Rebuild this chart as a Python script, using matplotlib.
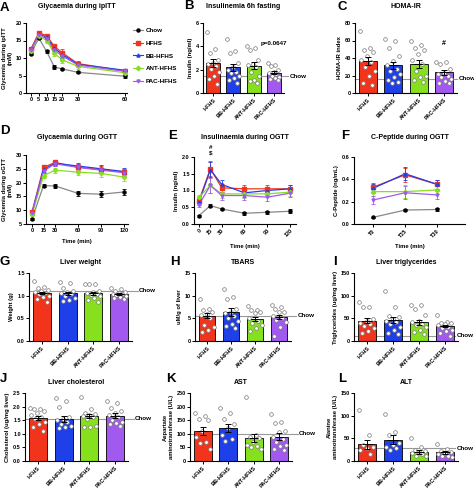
import numpy as np
import matplotlib
matplotlib.use('Agg')
import matplotlib.pyplot as plt
from matplotlib.lines import Line2D

plt.rcParams['font.family'] = ['Liberation Sans', 'DejaVu Sans']
plt.rcParams['font.weight'] = 'bold'
plt.rcParams['axes.labelweight'] = 'bold'

# ---- groups / colors
groups = ['HFHS', 'BB-HFHS', 'ANT-HFHS', 'PAC-HFHS']
series = ['Chow', 'HFHS', 'BB-HFHS', 'ANT-HFHS', 'PAC-HFHS']
colors = {'Chow': 'black', 'HFHS': '#f2341d', 'BB-HFHS': '#1f3fe8',
          'ANT-HFHS': '#86e01e', 'PAC-HFHS': '#a259f0'}
markers = {'Chow': 'o', 'HFHS': 's', 'BB-HFHS': '^', 'ANT-HFHS': 'D', 'PAC-HFHS': 'v'}

# ---- A: ipITT
ipitt_t = [0, 5, 10, 15, 20, 30, 60]
ipitt_chow = [11.2, 15.7, 11.9, 7.4, 6.9, 5.9, 4.8]
ipitt_hfhs = [12.6, 17.2, 16.4, 13.3, 11.5, 8.4, 6.3]
ipitt_bb = [12.4, 16.8, 16.0, 12.8, 11.0, 8.2, 6.5]
ipitt_ant = [12.0, 16.3, 15.0, 11.3, 9.5, 7.6, 5.8]
ipitt_pac = [12.3, 16.6, 15.5, 12.2, 10.6, 8.0, 6.2]
ipitt_sem_chow = [0.3, 0.4, 0.5, 0.5, 0.3, 0.3, 0.4]
ipitt_sem = [0.4, 0.5, 0.6, 0.8, 1.0, 0.7, 0.5]

# ---- D: OGTT glycaemia
ogtt_t = [0, 15, 30, 60, 90, 120]
ogtt_chow = [6.8, 18.9, 18.8, 16.1, 15.8, 16.6]
ogtt_hfhs = [9.3, 25.5, 27.3, 25.6, 24.7, 23.8]
ogtt_bb = [9.0, 24.8, 27.0, 26.0, 25.0, 24.0]
ogtt_ant = [8.5, 22.5, 24.5, 23.8, 23.3, 22.0]
ogtt_pac = [8.9, 24.2, 26.8, 25.5, 24.5, 23.6]
ogtt_sem_chow = [0.4, 0.6, 0.8, 1.0, 1.0, 1.1]
ogtt_sem = [0.6, 0.8, 0.9, 1.2, 1.2, 1.3]

# ---- E: OGTT insulin
ins_t = [0, 15, 30, 60, 90, 120]
ins_chow = [0.25, 0.55, 0.45, 0.32, 0.35, 0.38]
ins_hfhs = [0.70, 1.65, 1.08, 1.05, 1.05, 1.05]
ins_bb = [0.65, 1.62, 1.18, 0.93, 1.00, 1.05]
ins_ant = [0.80, 1.15, 0.90, 0.90, 0.90, 0.95]
ins_pac = [0.58, 1.15, 0.85, 0.85, 0.80, 0.92]
ins_sem_chow = [0.03, 0.05, 0.04, 0.04, 0.05, 0.06]
ins_sem = [0.08, 0.22, 0.12, 0.12, 0.10, 0.12]

# ---- F: C-peptide
cpep_t = ['T0', 'T15', 'T30']
cpep_chow = [0.06, 0.125, 0.13]
cpep_hfhs = [0.33, 0.44, 0.355]
cpep_bb = [0.32, 0.45, 0.355]
cpep_ant = [0.29, 0.29, 0.305]
cpep_pac = [0.215, 0.28, 0.26]
cpep_sem_chow = [0.005, 0.01, 0.01]
cpep_sem = [0.04, 0.06, 0.04]

# ---- bar panels: individual values, mean, sem, chow reference
b_pts = [[5.2, 3.8, 3.4, 2.8, 2.6, 2.5, 2.3, 2.1, 1.8, 1.5, 1.2, 0.8],
         [4.6, 3.6, 3.4, 2.6, 2.2, 2.0, 1.8, 1.7, 1.5, 1.3, 1.1, 0.9],
         [4.0, 3.9, 3.7, 2.8, 2.5, 2.4, 2.2, 1.8, 1.5, 1.1, 1.0, 0.9],
         [2.6, 2.4, 2.3, 2.0, 1.8, 1.7, 1.6, 1.5, 1.4, 1.3, 1.2, 1.1]]
b_mean = [2.55, 2.2, 2.35, 1.75]
b_sem = [0.35, 0.3, 0.3, 0.15]
b_chow = 1.45

c_pts = [[71, 51, 49, 47, 42, 38, 35, 30, 25, 20, 12, 9],
         [62, 59, 52, 42, 37, 32, 27, 25, 22, 18, 15, 13, 12],
         [60, 55, 52, 49, 45, 38, 33, 25, 20, 18, 15, 13],
         [36, 35, 33, 27, 23, 22, 20, 18, 16, 14, 12, 11]]
c_mean = [36.5, 31.5, 33, 23.5]
c_sem = [5, 4, 4.5, 2.5]
c_chow = 16

g_pts = [[1.33, 1.2, 1.17, 1.12, 1.1, 1.08, 1.05, 1.03, 1.0, 0.97, 0.93, 0.85],
         [1.31, 1.27, 1.17, 1.1, 1.08, 1.05, 1.03, 1.0, 0.95, 0.9, 0.88],
         [1.26, 1.26, 1.26, 1.1, 1.08, 1.06, 1.04, 1.02, 1.0, 0.95, 0.9, 0.87],
         [1.17, 1.14, 1.1, 1.07, 1.05, 1.04, 1.03, 1.02, 1.0, 0.98, 0.95, 0.92]]
g_mean = [1.06, 1.05, 1.05, 1.04]
g_sem = [0.03, 0.03, 0.03, 0.02]
g_chow = 1.11

h_pts = [[9.2, 7.0, 6.8, 6.5, 6.0, 5.8, 5.0, 3.5, 3.0, 2.5, 2.0],
         [11.5, 9.8, 9.3, 7.0, 6.5, 6.2, 5.5, 5.0, 4.5, 3.8, 3.2, 2.8],
         [7.8, 6.9, 6.8, 6.5, 6.2, 5.0, 4.5, 4.0, 3.5, 2.8, 2.3],
         [8.0, 7.4, 7.0, 6.5, 6.3, 5.5, 5.0, 4.6, 4.2, 3.0, 1.0]]
h_mean = [5.6, 6.4, 4.9, 5.3]
h_sem = [0.6, 0.8, 0.5, 0.5]
h_chow = 5.6

i_pts = [[86, 75, 75, 48, 44, 40, 38, 32, 28, 22, 18],
         [110, 75, 55, 52, 48, 45, 42, 38, 30, 25, 18, 15],
         [80, 80, 70, 58, 45, 42, 38, 35, 30, 25, 20, 15],
         [58, 43, 40, 40, 38, 35, 30, 28, 25, 22, 18, 12]]
i_mean = [45, 46, 41, 33]
i_sem = [6, 7, 6, 3]
i_chow = 12

j_pts = [[1.95, 1.92, 1.9, 1.82, 1.75, 1.7, 1.6, 1.55, 1.45, 1.35, 1.25, 1.12],
         [2.3, 2.2, 2.0, 1.6, 1.55, 1.5, 1.45, 1.35, 1.3, 1.25, 1.2],
         [2.35, 1.9, 1.78, 1.72, 1.7, 1.65, 1.6, 1.55, 1.3, 1.25, 1.25],
         [2.22, 2.12, 1.95, 1.85, 1.75, 1.7, 1.6, 1.5, 1.45, 1.4, 1.35, 1.3]]
j_mean = [1.58, 1.55, 1.65, 1.67]
j_sem = [0.07, 0.1, 0.07, 0.08]
j_chow = 1.55

k_pts = [[178, 165, 155, 150, 110, 90, 70, 65, 45],
         [195, 178, 155, 135, 120, 95, 80, 75],
         [235, 95, 90, 85, 70, 60, 55, 50, 45],
         [172, 145, 140, 110, 105, 90, 80, 70, 60, 55, 45, 40]]
k_mean = [110, 122, 85, 90]
k_sem = [15, 15, 15, 12]
k_chow = 100

l_pts = [[112, 57, 35, 30, 28, 25, 15],
         [103, 65, 58, 40, 35, 30, 28, 25],
         [50, 30, 25, 22, 20, 18, 15, 12, 10],
         [38, 26, 22, 20, 18, 15, 12, 10, 8]]
l_mean = [37, 47, 20, 19]
l_sem = [10, 10, 4, 3]
l_chow = 28

# ------------------------------------------------------------------
W, H = 474, 488
fig = plt.figure(figsize=(W / 100, H / 100), dpi=100)
TICK = 4
LAB = 4.2


def px(x0, y0, x1, y1):
    return [x0 / W, 1 - y1 / H, (x1 - x0) / W, (y1 - y0) / H]


def style(ax):
    for s in ['top', 'right']:
        ax.spines[s].set_visible(False)
    for s in ['left', 'bottom']:
        ax.spines[s].set_linewidth(0.8)
    ax.tick_params(labelsize=TICK, length=2, width=0.7, pad=1)
    for lab in ax.get_xticklabels() + ax.get_yticklabels():
        lab.set_fontweight('bold')


def title(ax, text, ytop):
    b = ax.get_position()
    fig.text(b.x0 + b.width / 2, 1 - ytop / H, text, ha='center', va='center',
             fontsize=5, fontweight='bold')


def letter(x, y, s):
    fig.text(x / W, 1 - y / H, s, ha='left', va='center', fontsize=9.5, fontweight='bold')


def bar_panel(box, ttl, ty, ylabel, pts, means, sems, chow, ylim, yticks, chow_end=3.72):
    ax = fig.add_axes(px(*box))
    x = np.arange(4)
    ax.bar(x, means, width=0.7, color=[colors[g] for g in groups],
           edgecolor='black', linewidth=0.6, zorder=2)
    for i, vals in enumerate(pts):
        n = len(vals)
        off = ((np.arange(n) * 0.618) % 1 - 0.5) * 0.62
        ax.scatter(x[i] + off, vals, s=7, facecolor='white', edgecolor='#777777',
                   linewidth=0.5, zorder=4, clip_on=False)
    ax.errorbar(x, means, yerr=sems, fmt='none', ecolor='black', elinewidth=0.7,
                capsize=2, capthick=0.7, zorder=5)
    ax.hlines(means, x - 0.18, x + 0.18, color='black', linewidth=0.7, zorder=5)
    ax.plot([-0.5, chow_end], [chow, chow], color='#999999', linewidth=0.8,
            zorder=1, clip_on=False)
    ax.text(chow_end + 0.06, chow, 'Chow', fontsize=4.5, va='center', ha='left',
            clip_on=False)
    ax.set_xlim(-0.5, 3.5)
    ax.set_ylim(*ylim)
    ax.set_yticks(yticks)
    ax.set_xticks(x)
    ax.set_xticklabels(groups, rotation=45, ha='right', rotation_mode='anchor')
    ax.set_ylabel(ylabel, fontsize=LAB, labelpad=2)
    style(ax)
    title(ax, ttl, ty)
    return ax


def line_panel(box, ttl, ty, xs, data, sems, ylim, yticks, xlim, ylabel,
               xlabel=None, xticklabels=None, rot=0, yfmt=None):
    ax = fig.add_axes(px(*box))
    for name, ys, se in zip(series, data, sems):
        c = colors[name]
        lc = '#888888' if name == 'Chow' else c
        ax.plot(xs, ys, color=lc, linewidth=0.9, zorder=2)
        ax.errorbar(xs, ys, yerr=se, fmt=markers[name], color=c, ms=2.2,
                    elinewidth=0.6, capsize=1.2, capthick=0.6, zorder=3)
    ax.set_xlim(*xlim)
    ax.set_ylim(*ylim)
    ax.set_yticks(yticks)
    ax.set_xticks(xs)
    if xticklabels is not None:
        ax.set_xticklabels(xticklabels)
    if rot:
        plt.setp(ax.get_xticklabels(), rotation=rot, ha='right', rotation_mode='anchor')
    if yfmt:
        ax.set_yticklabels([yfmt % v for v in yticks])
    ax.set_ylabel(ylabel, fontsize=LAB, labelpad=2)
    if xlabel:
        ax.set_xlabel(xlabel, fontsize=LAB, labelpad=4)
    style(ax)
    title(ax, ttl, ty)
    return ax


# A
axA = line_panel((26, 23, 127, 93), 'Glycaemia during ipITT', 7, ipitt_t,
                 [ipitt_chow, ipitt_hfhs, ipitt_bb, ipitt_ant, ipitt_pac],
                 [ipitt_sem_chow] + [ipitt_sem] * 4, (0, 20), [0, 5, 10, 15, 20],
                 (-3.2, 61.5), 'Glycemia during ipITT\n(mM)')
handles = [Line2D([], [], color=('#888888' if s == 'Chow' else colors[s]), lw=0.8,
                  marker=markers[s], ms=2.2, mfc=colors[s], mec=colors[s]) for s in series]
fig.legend(handles, series, loc='upper left', bbox_to_anchor=(130 / W, 1 - 25 / H),
           frameon=False, fontsize=4.5, handlelength=1.6, labelspacing=1.2,
           handletextpad=0.5, borderaxespad=0)

# B, C
axB = bar_panel((203, 23, 284, 93), 'Insulinemia 6h fasting', 7, 'Insulin (ng/ml)',
                b_pts, b_mean, b_sem, b_chow, (0, 6), [0, 2, 4, 6])
axB.text(3, 4.2, 'p=0.0647', ha='center', va='center', fontsize=4.5)
axC = bar_panel((355, 23, 457, 93), 'HOMA-IR', 7, 'HOMA-IR index',
                c_pts, c_mean, c_sem, c_chow, (0, 80), [0, 20, 40, 60, 80],
                chow_end=3.5)
axC.text(3, 57, '#', ha='center', va='center', fontsize=5)

# D, E, F
line_panel((26, 155, 128, 224), 'Glycaemia during OGTT', 137, ogtt_t,
           [ogtt_chow, ogtt_hfhs, ogtt_bb, ogtt_ant, ogtt_pac],
           [ogtt_sem_chow] + [ogtt_sem] * 4, (5, 30), [5, 10, 15, 20, 25, 30],
           (-7.8, 125), 'Glycemia during oGTT\n(mM)', xlabel='Time (min)')
axE = line_panel((194, 157, 296, 224), 'Insulinaemia during OGTT', 137, ins_t,
                 [ins_chow, ins_hfhs, ins_bb, ins_ant, ins_pac],
                 [ins_sem_chow] + [ins_sem] * 4, (0, 2.0), [0, 0.5, 1.0, 1.5, 2.0],
                 (-6.6, 128), 'Insulin (ng/ml)', xlabel='Time (min)', rot=45, yfmt='%.1f')
axE.text(15, 2.27, '#', ha='center', va='center', fontsize=4.5, clip_on=False)
axE.text(15, 2.12, '$', ha='center', va='center', fontsize=4.5, clip_on=False)
line_panel((354, 157, 465, 224), 'C-Peptide during OGTT', 137, [0, 1, 2],
           [cpep_chow, cpep_hfhs, cpep_bb, cpep_ant, cpep_pac],
           [cpep_sem_chow] + [cpep_sem] * 4, (0, 0.6), [0, 0.2, 0.4, 0.6],
           (-0.6, 2.87), 'C-Peptide (ng/mL)', xlabel='Time (min)',
           xticklabels=cpep_t, rot=45, yfmt='%.1f')

# G, H, I
bar_panel((29, 273, 132, 341), 'Liver weight', 263, 'Weight (g)',
          g_pts, g_mean, g_sem, g_chow, (0, 1.5), [0, 0.5, 1.0, 1.5])
bar_panel((195, 273, 291, 341), 'TBARS', 263, 'uM/g of liver',
          h_pts, h_mean, h_sem, h_chow, (0, 15), [0, 5, 10, 15])
bar_panel((354, 273, 458, 341), 'Liver triglycerides', 263, 'Triglycerides (ug/mg liver)',
          i_pts, i_mean, i_sem, i_chow, (0, 150), [0, 50, 100, 150], chow_end=3.38)

# J, K, L
bar_panel((25, 393, 128, 461), 'Liver cholesterol', 382, 'Cholesterol (ug/mg liver)',
          j_pts, j_mean, j_sem, j_chow, (0, 2.5), [0, 0.5, 1.0, 1.5, 2.0, 2.5])
bar_panel((190, 393, 292, 461), 'AST', 382, 'Aspartate\naminotransferase (U/L)',
          k_pts, k_mean, k_sem, k_chow, (0, 250), [0, 50, 100, 150, 200, 250])
bar_panel((354, 393, 458, 461), 'ALT', 382, 'Alanine\naminotransferase (U/L)',
          l_pts, l_mean, l_sem, l_chow, (0, 150), [0, 50, 100, 150], chow_end=3.38)

# panel letters
for s, x, y in [('A', 0, 8), ('B', 184, 6), ('C', 338, 7), ('D', 0, 131), ('E', 168, 136),
                ('F', 341, 136), ('G', 0, 262), ('H', 170, 262), ('I', 333, 262),
                ('J', 0, 379), ('K', 166, 379), ('L', 338, 379)]:
    letter(x, y, s)

fig.savefig('out.png', dpi=100)
